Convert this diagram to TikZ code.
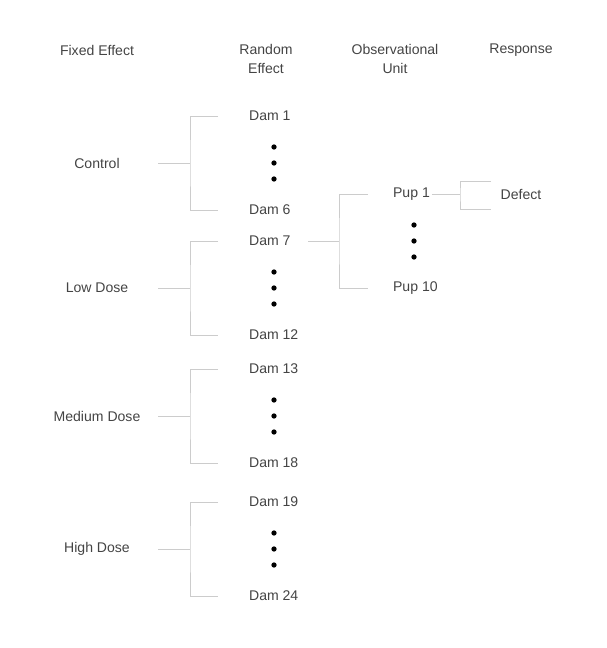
\documentclass[tikz,border=0pt]{standalone}
\usepackage{fontspec}
\setmainfont{Liberation Sans}
\usetikzlibrary{positioning}
\definecolor{txtgray}{HTML}{444444}
\definecolor{linegray}{HTML}{CCCCCC}
\tikzset{
  lbl/.style={text=txtgray, font=\fontsize{8}{10.8}\selectfont, inner sep=1pt},
  item/.style={lbl, anchor=west},
  tree/.style={draw=linegray, line width=0.55pt},
  vdot/.style={circle, fill=black, inner sep=0pt, minimum size=3pt}
}

\begin{document}
\begin{tikzpicture}[x=0.02cm,y=-0.02cm]
\useasboundingbox (0,0) rectangle (606,648);
% column heads
\node[lbl] (hfixed) at (97,50) {Fixed Effect};
\node[lbl, align=center] (hrandom) at (266,59) {Random\\Effect};
\node[lbl, align=center] (hunit) at (395,59) {Observational\\Unit};
\node[lbl] (hresp) at (521,50) {Response};
% dose groups and their dams
\foreach \g/\name/\y/\a/\b in {ctl/Control/163/1/6, low/Low Dose/288/7/12,
    med/Medium Dose/416/13/18, high/High Dose/549/19/24} {
  \node[lbl] (\g) at (97,\y) {\name};
  \node[item] (dam\a) at (247,\y-47) {Dam \a};
  \node[item] (dam\b) at (247,\y+47) {Dam \b};
  \foreach \d/\k in {-16/1,0/2,16/3}
    \node[vdot] (\g dot\k) at (274,\y+\d) {};
  \coordinate (\g stem) at (158,\y);
  \coordinate (\g fork) at (190,\y);
  \coordinate (\g top) at (218,\y-47);
  \coordinate (\g bot) at (218,\y+47);
  \draw[tree] (\g stem) -- (\g fork);
  \draw[tree] (\g top) -| (\g fork) |- (\g bot);
}
% pups of dam 7
\node[item] (pup1) at (391,194) {Pup 1};
\node[item] (pup10) at (391,288) {Pup 10};
\foreach \d/\k in {-16/1,0/2,16/3}
  \node[vdot] (pupdot\k) at (414,241+\d) {};
\coordinate (damstem) at (308,241);
\coordinate (pupfork) at (339,241);
\coordinate (puptop) at (368,194);
\coordinate (pupbot) at (368,288);
\draw[tree] (damstem) -- (pupfork);
\draw[tree] (puptop) -| (pupfork) |- (pupbot);
% response
\node[lbl] (defect) at (521,194) {Defect};
\coordinate (resfork) at (460,194);
\coordinate (restop) at (491,181);
\coordinate (resbot) at (491,209);
\draw[tree] (pup1.east) -- (resfork);
\draw[tree] (restop) -| (resfork) |- (resbot);
\end{tikzpicture}
\end{document}
